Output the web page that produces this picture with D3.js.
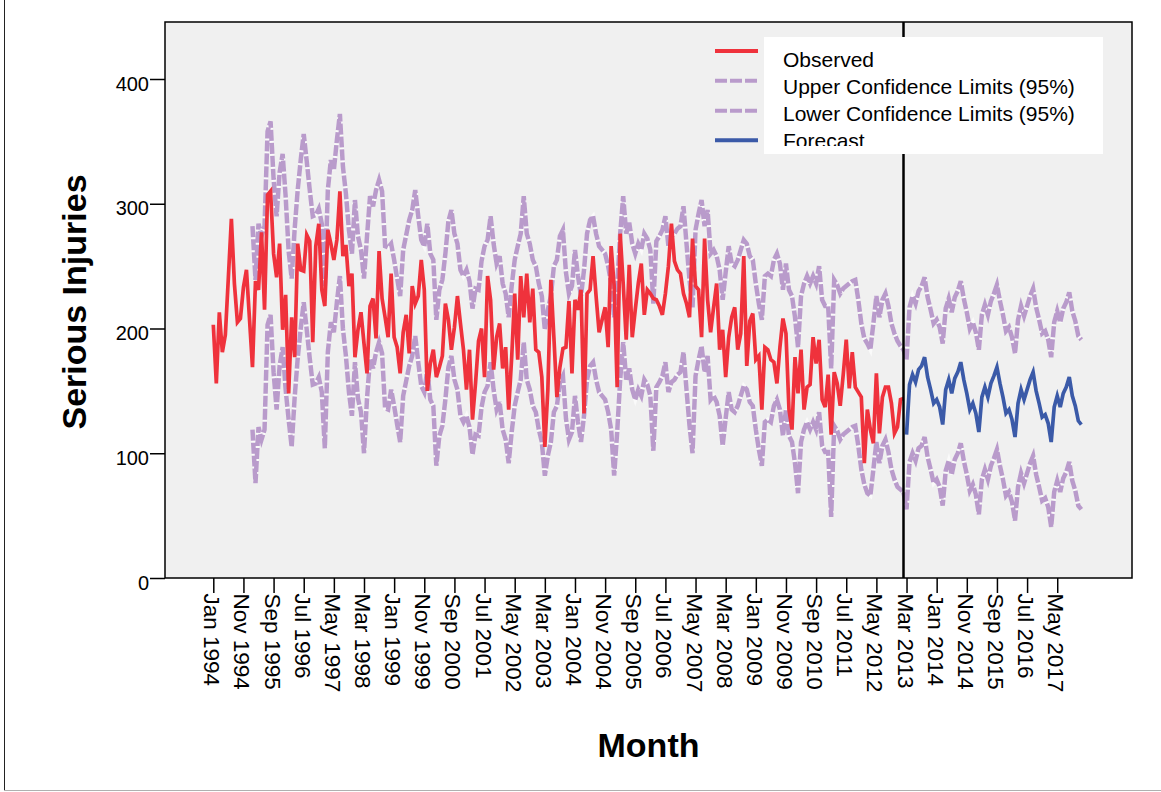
<!DOCTYPE html>
<html>
<head>
<meta charset="utf-8">
<script src="https://cdn.jsdelivr.net/npm/d3@7"></script>
<style>
  html, body { margin: 0; padding: 0; background: #fff; }
  svg { display: block; font-family: "Liberation Sans", Arial, sans-serif; }
</style>
</head>
<body>
<svg id="chart" width="1161" height="792"></svg>
<script>
// Monthly serious injuries, Jan 1994 (index 0) to Feb 2013 (index 229)
const observed = [
  203,156,213,181,195,241,288,236,205,208,
  233,247,208,169,238,231,277,215,307,310,
  260,241,268,199,227,148,209,177,268,247,
  246,275,270,189,266,284,231,218,279,268,
  255,271,310,258,267,234,244,177,199,213,
  188,164,218,224,192,262,224,209,193,244,
  193,185,164,197,211,180,234,220,226,255,
  231,150,172,183,161,169,178,220,207,183,
  201,226,204,183,151,183,127,156,190,200,
  161,242,223,167,193,204,168,185,135,177,
  228,175,242,209,244,205,232,183,181,161,
  105,151,239,193,145,169,184,185,222,164,
  223,215,231,132,228,231,258,226,197,207,
  217,185,266,234,153,276,236,191,251,193,
  215,236,252,211,231,228,224,223,218,211,
  228,250,284,254,247,244,228,220,209,272,
  234,231,193,272,223,197,217,236,183,199,
  161,193,209,217,183,196,258,170,206,212,
  175,178,135,185,183,175,173,156,185,208,
  196,135,119,177,148,183,135,153,155,193,
  172,191,143,137,163,115,165,156,138,163,
  191,152,181,153,149,145,92,135,119,108,
  164,116,145,153,153,140,116,121,143,144
];

// Forecast, Mar 2013 (index 230) onwards
const forecastStart = 230;
const forecast = [
  115,155,163,157,167,170,177,161,151,140,143,137,
  123,151,159,148,160,165,173,159,148,135,140,132,
  117,145,153,145,156,162,169,156,145,132,135,127,
  113,140,151,143,151,159,165,150,140,129,131,124,
  109,137,146,137,148,153,161,146,138,126,123
];

// 95% confidence limits, from index 13 (Feb 1995) to the end of the forecast
const limitsStart = 13;
const upperLimits = [
  282,239,284,274,282,358,366,
  320,290,325,340,306,262,240,280,311,335,
  356,334,311,290,291,296,284,234,311,335,
  327,351,372,330,308,279,260,303,274,263,
  240,274,306,298,311,319,310,266,265,268,
  255,240,226,263,275,287,295,311,290,271,
  266,284,260,255,207,231,239,260,286,295,
  276,268,247,242,247,238,216,232,231,254,
  266,271,290,268,252,258,236,228,209,234,
  255,266,276,306,276,268,255,250,236,226,
  199,215,226,250,255,274,279,245,228,234,
  263,242,226,247,276,287,290,276,266,263,
  260,250,236,209,234,276,306,276,285,268,
  260,268,263,276,272,263,220,270,274,279,
  290,266,274,276,280,282,298,268,239,217,
  279,292,303,282,295,260,263,258,247,223,
  245,266,252,250,255,263,271,268,258,255,
  236,220,207,242,244,242,255,260,252,231,
  252,231,226,209,185,226,236,242,236,242,
  236,250,223,218,218,168,239,235,228,232,
  234,236,238,239,223,204,192,188,183,204,
  226,209,223,228,218,204,196,190,186,183,
  175,217,226,220,230,234,241,225,215,204,207,201,
  188,216,224,213,225,230,238,224,213,200,205,197,
  183,211,219,211,222,228,235,222,211,198,201,193,
  180,207,218,210,218,226,232,217,207,196,198,191,
  177,205,214,205,216,221,229,214,206,194,191
];
const lowerLimits = [
  119,76,121,111,119,203,211,
  165,135,170,185,151,127,105,145,176,200,
  221,199,176,155,156,161,149,104,181,205,
  197,221,242,200,178,149,130,173,144,133,
  100,144,176,168,181,189,180,136,135,151,
  138,123,109,146,158,170,178,194,173,154,
  149,167,143,138,90,114,122,143,169,178,
  159,151,130,125,130,121,99,115,114,137,
  149,154,173,151,135,141,119,111,92,117,
  138,149,159,189,159,151,138,133,119,109,
  82,98,109,133,138,157,162,128,111,117,
  146,125,109,130,159,170,173,159,149,146,
  143,133,119,82,117,159,189,159,168,151,
  143,151,146,159,155,146,102,153,157,162,
  173,149,157,159,163,165,181,151,122,100,
  162,175,186,165,178,143,146,141,130,106,
  128,149,135,133,138,146,154,151,141,138,
  119,103,90,125,127,125,138,143,135,114,
  135,114,109,92,68,109,119,125,119,125,
  119,133,106,101,101,49,122,118,111,115,
  117,119,121,122,106,87,75,68,66,87,
  109,92,106,111,101,87,79,73,71,69,
  55,93,100,94,104,106,113,97,87,76,79,73,
  58,86,94,83,95,100,108,94,83,70,75,67,
  51,79,87,79,90,96,103,90,79,66,69,61,
  46,73,84,76,84,92,98,83,73,62,64,57,
  41,69,78,69,80,85,93,78,70,58,55
];

const tickLabels = [
  "Jan 1994","Nov 1994","Sep 1995","Jul 1996","May 1997","Mar 1998",
  "Jan 1999","Nov 1999","Sep 2000","Jul 2001","May 2002","Mar 2003",
  "Jan 2004","Nov 2004","Sep 2005","Jul 2006","May 2007","Mar 2008",
  "Jan 2009","Nov 2009","Sep 2010","Jul 2011","May 2012","Mar 2013",
  "Jan 2014","Nov 2014","Sep 2015","Jul 2016","May 2017"
];
const tickStep = 10;            // months between labelled ticks
const yTicks = [0, 100, 200, 300, 400];

const RED = "#ef323c", LILAC = "#b99bcb", BLUE = "#3b5aa8";
const legendItems = [
  { label: "Observed", color: RED, dashed: false },
  { label: "Upper Confidence Limits (95%)", color: LILAC, dashed: true },
  { label: "Lower Confidence Limits (95%)", color: LILAC, dashed: true },
  { label: "Forecast", color: BLUE, dashed: false }
];

const lastIndex = forecastStart + forecast.length - 1;
const frame = { left: 165, right: 1132, top: 22, bottom: 578 };

const svg = d3.select("#chart");

// page edges
svg.append("line").attr("x1", 4.5).attr("x2", 4.5).attr("y1", 0).attr("y2", 791)
  .attr("stroke", "#222").attr("stroke-width", 1);
svg.append("line").attr("x1", 4).attr("x2", 1161).attr("y1", 790.5).attr("y2", 790.5)
  .attr("stroke", "#b0b0b0").attr("stroke-width", 1);

const x = d3.scaleLinear().domain([0, lastIndex]).range([213.3, 213.3 + 3.014 * lastIndex]);
const y = d3.scaleLinear().domain([0, 400]).range([frame.bottom, 79]);

// plot panel
svg.append("rect")
  .attr("x", frame.left).attr("y", frame.top)
  .attr("width", frame.right - frame.left).attr("height", frame.bottom - frame.top)
  .attr("fill", "#f0f0f0");

const lineFrom = start => d3.line()
  .x((d, i) => x(start + i))
  .y(d => y(d));

const series = [
  { data: upperLimits, start: limitsStart, color: LILAC, width: 4.5, dash: "11,2" },
  { data: lowerLimits, start: limitsStart, color: LILAC, width: 4.5, dash: "11,2" },
  { data: observed, start: 0, color: RED, width: 3.7, dash: null },
  { data: forecast, start: forecastStart, color: BLUE, width: 3.7, dash: null }
];

series.forEach(s => {
  if (s.dash) {
    // light bed under the dashes so the breaks read as thin pale cuts
    svg.append("path")
      .datum(s.data)
      .attr("d", lineFrom(s.start))
      .attr("fill", "none")
      .attr("stroke", "#fafafa")
      .attr("stroke-width", s.width - 0.5);
  }
  svg.append("path")
    .datum(s.data)
    .attr("d", lineFrom(s.start))
    .attr("fill", "none")
    .attr("stroke", s.color)
    .attr("stroke-width", s.width)
    .attr("stroke-dasharray", s.dash);
});

// reference line at the end of the observed period
svg.append("line")
  .attr("x1", x(forecastStart - 1)).attr("x2", x(forecastStart - 1))
  .attr("y1", frame.top).attr("y2", frame.bottom)
  .attr("stroke", "#000").attr("stroke-width", 2.5);

// legend
const legend = svg.append("g");
legend.append("rect")
  .attr("x", 764).attr("y", 37).attr("width", 339).attr("height", 117)
  .attr("fill", "#fff");
svg.append("clipPath").attr("id", "legendClip")
  .append("rect").attr("x", 764).attr("y", 37).attr("width", 339).attr("height", 109);
const sampleY = [51, 80.7, 110.7, 140.3];
const textY = [67, 94, 121, 148];
legendItems.forEach((item, i) => {
  legend.append("line")
    .attr("x1", 715).attr("x2", 758)
    .attr("y1", sampleY[i]).attr("y2", sampleY[i])
    .attr("stroke", item.color)
    .attr("stroke-width", 4)
    .attr("stroke-dasharray", item.dashed ? "12,3" : null);
  legend.append("text")
    .attr("x", 783).attr("y", textY[i])
    .attr("clip-path", "url(#legendClip)")
    .attr("font-size", 21).attr("fill", "#000")
    .text(item.label);
});

// axes
const yAxis = d3.axisLeft(y).tickValues(yTicks).tickSize(15).tickPadding(1);
const gy = svg.append("g").attr("transform", `translate(${frame.left},0)`).call(yAxis);
gy.select(".domain").remove();
gy.selectAll(".tick line").attr("stroke", "#000").attr("stroke-width", 1.5);
gy.selectAll(".tick text")
  .attr("font-size", 20).attr("font-family", "Liberation Sans, Arial, sans-serif")
  .attr("fill", "#000").attr("dy", "0.55em");

const tickIdx = tickLabels.map((_, i) => i * tickStep);
const xAxis = d3.axisBottom(x).tickValues(tickIdx).tickSize(15)
  .tickFormat((d, i) => tickLabels[i]);
const gx = svg.append("g").attr("transform", `translate(0,${frame.bottom})`).call(xAxis);
gx.select(".domain").remove();
gx.selectAll(".tick line").attr("stroke", "#000").attr("stroke-width", 1.5);
gx.selectAll(".tick text")
  .attr("font-size", 22.5).attr("font-family", "Liberation Sans, Arial, sans-serif")
  .attr("fill", "#000")
  .attr("transform", "rotate(90)")
  .attr("text-anchor", "start")
  .attr("x", 15.5).attr("y", 0).attr("dy", "0.42em");

// panel border
svg.append("rect")
  .attr("x", frame.left).attr("y", frame.top)
  .attr("width", frame.right - frame.left).attr("height", frame.bottom - frame.top)
  .attr("fill", "none").attr("stroke", "#000").attr("stroke-width", 1.5);

// axis titles
svg.append("text")
  .attr("transform", `translate(86,302) rotate(-90)`)
  .attr("text-anchor", "middle")
  .attr("font-size", 34).attr("font-weight", "bold").attr("fill", "#000")
  .text("Serious Injuries");
svg.append("text")
  .attr("x", (frame.left + frame.right) / 2).attr("y", 757)
  .attr("text-anchor", "middle")
  .attr("font-size", 34).attr("font-weight", "bold").attr("fill", "#000")
  .text("Month");
</script>
</body>
</html>
